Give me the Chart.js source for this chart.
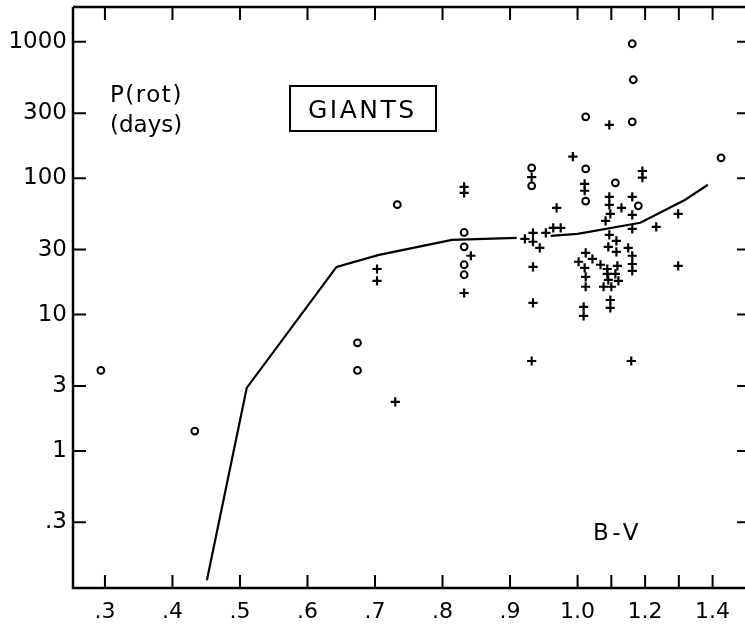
<!DOCTYPE html>
<html>
<head>
<meta charset="utf-8">
<script src="https://cdn.jsdelivr.net/npm/chart.js@4/dist/chart.umd.min.js"></script>
<style>
html,body{margin:0;padding:0;background:#fff;overflow:hidden}
#wrap{width:745px;height:625px;position:relative}
</style>
</head>
<body>
<div id="wrap"><canvas id="c" width="745" height="625"></canvas></div>
<script>
// ---- data (B-V colour index, rotation period in days) ----
const circleBV = [0.294, 0.433, 0.674, 0.674, 0.733, 0.832, 0.832, 0.832, 0.832, 0.932, 0.932, 1.024, 1.024, 1.024, 1.112, 1.162, 1.165, 1.162, 1.180, 1.425];
const circleP  = [3.9,   1.4,   6.2,   3.9,   64,    40,    31.4,  23.2,  19.6,  119,   88,    282,   117,   68,    92.5,  968,   527,   259,   62.7,  141];

const plusBV = [0.730, 0.703, 0.703, 0.832, 0.832, 0.842, 0.832, 0.932, 0.934, 0.922, 0.934, 0.944, 0.953, 0.934, 0.934, 0.932,
                0.969, 0.964, 0.975, 0.993, 1.021, 1.021, 1.094, 1.192, 1.192, 1.094, 1.094, 1.130, 1.162, 1.097, 1.083, 1.162,
                1.162, 1.233, 1.298, 1.298, 1.094, 1.115, 1.091, 1.115, 1.150, 1.162, 1.162, 1.162, 1.024, 1.044, 1.003, 1.021,
                1.024, 1.024, 1.068, 1.088, 1.118, 1.088, 1.112, 1.091, 1.121, 1.077, 1.100, 1.097, 1.097, 1.018, 1.018, 1.159];
const plusP  = [2.29, 21.6, 17.7, 86.5, 78.1, 27.0, 14.4, 102, 39.8, 35.9, 34.2, 30.9, 39.8, 22.4, 12.2, 4.57,
                60.6, 43.3, 43.3, 144, 91, 80.9, 246, 113, 101, 73, 63.8, 60.6, 73, 54.8, 48.7, 53.9,
                42.5, 44, 54.8, 22.8, 38.4, 34.7, 31.4, 28.8, 30.9, 27, 23.5, 20.9, 28.4, 25.6, 24.4, 22,
                18.9, 16, 23.2, 21.6, 22.8, 19.9, 19.9, 18, 17.7, 16, 16, 12.8, 11.2, 11.4, 9.8, 4.57];

// relation curve (null = break in the drawn line)
const curveBV = [0.451, 0.510, 0.643, 0.706, 0.814, 0.910, 0.935, 0.960, 1.000, 1.186, 1.319, 1.386];
const curveP  = [0.113, 2.9,   22.4,  27.4,  35.3,  36.5,  null,  37.8,  39.1,  47.1,  69.5,  89.5];

// tick values and labels
const xTickBV     = [0.3, 0.4, 0.5, 0.6, 0.7, 0.8, 0.9, 1.0, 1.1, 1.2, 1.3, 1.4];
const xTickLabels = ['.3', '.4', '.5', '.6', '.7', '.8', '.9', '1.0', '', '1.2', '', '1.4'];
const yTickValues = [0.3, 1, 3, 10, 30, 100, 300, 1000];
const yTickLabels = ['.3', '1', '3', '10', '30', '100', '300', '1000'];

// the B-V axis is compressed by half beyond 1.0
function toAxis(bv) { return bv <= 1 ? bv : 1 + (bv - 1) * 0.5; }
function pts(xs, ys) { return xs.map((v, i) => ({ x: toAxis(v), y: ys[i] })); }

const FONT = 'DejaVu Sans';

const framePlugin = {
  id: 'frame',
  beforeDraw(chart) {
    const ctx = chart.ctx;
    ctx.save();
    ctx.fillStyle = '#fff';
    ctx.fillRect(0, 0, chart.width, chart.height);
    ctx.restore();
  },
  afterDraw(chart) {
    const { ctx, chartArea: a, scales: { x, y } } = chart;
    ctx.save();
    ctx.strokeStyle = '#000';
    ctx.lineCap = 'butt';
    ctx.lineWidth = 2.5;
    ctx.beginPath();
    ctx.moveTo(a.left, a.top); ctx.lineTo(a.left, a.bottom); ctx.lineTo(chart.width, a.bottom);
    ctx.moveTo(a.left, a.top); ctx.lineTo(chart.width, a.top);
    ctx.stroke();
    ctx.lineWidth = 2;
    ctx.beginPath();
    const T = 13;
    x.ticks.forEach(t => {
      const px = x.getPixelForValue(t.value);
      ctx.moveTo(px, a.bottom); ctx.lineTo(px, a.bottom - T);
      ctx.moveTo(px, a.top); ctx.lineTo(px, a.top + T);
    });
    y.ticks.forEach(t => {
      const py = y.getPixelForValue(t.value);
      ctx.moveTo(a.left, py); ctx.lineTo(a.left + T, py);
      ctx.moveTo(chart.width, py); ctx.lineTo(chart.width - 8, py);
    });
    ctx.stroke();

    // annotations
    ctx.fillStyle = '#000';
    ctx.textAlign = 'left';
    ctx.textBaseline = 'alphabetic';
    ctx.font = '23px "' + FONT + '"';
    ctx.letterSpacing = '1.5px';
    ctx.fillText('P(rot)', 110, 102);
    ctx.letterSpacing = '0px';
    ctx.fillText('(days)', 110, 132);
    ctx.letterSpacing = '3.5px';
    ctx.fillText('B-V', 593, 540);
    ctx.lineWidth = 2;
    ctx.strokeRect(290, 86, 146, 45);
    ctx.font = '25px "' + FONT + '"';
    ctx.letterSpacing = '2.5px';
    ctx.fillText('GIANTS', 308, 118);
    ctx.letterSpacing = '0px';
    ctx.restore();
  }
};

new Chart(document.getElementById('c'), {
  type: 'scatter',
  data: {
    datasets: [
      {
        label: 'relation',
        type: 'line',
        data: pts(curveBV, curveP),
        borderColor: '#000',
        borderWidth: 2.2,
        pointRadius: 0,
        fill: false,
        tension: 0,
        spanGaps: false
      },
      {
        label: 'circles',
        data: pts(circleBV, circleP),
        pointStyle: 'circle',
        pointRadius: 3.4,
        borderWidth: 2,
        borderColor: '#000',
        backgroundColor: 'rgba(255,255,255,0)'
      },
      {
        label: 'plus',
        data: pts(plusBV, plusP),
        pointStyle: 'cross',
        pointRadius: 4.6,
        borderWidth: 2.2,
        borderColor: '#000',
        backgroundColor: '#000'
      }
    ]
  },
  options: {
    responsive: false,
    animation: false,
    devicePixelRatio: 1,
    layout: { padding: { top: 7, right: 0, left: 0, bottom: 0 } },
    plugins: { legend: { display: false }, tooltip: { enabled: false } },
    scales: {
      x: {
        type: 'linear',
        min: 0.2527,
        max: 1.2379,
        afterBuildTicks: s => { s.ticks = xTickBV.map(v => ({ value: toAxis(v) })); },
        afterFit: s => { s.height = 37; s.paddingLeft = 0; s.paddingRight = 0; },
        grid: { display: false, drawTicks: false },
        border: { display: false },
        ticks: {
          autoSkip: false,
          maxRotation: 0,
          padding: 11,
          color: '#000',
          font: { family: FONT, size: 22 },
          callback: (v, i) => xTickLabels[i]
        }
      },
      y: {
        type: 'logarithmic',
        min: 0.099,
        max: 1800,
        afterBuildTicks: s => { s.ticks = yTickValues.map(v => ({ value: v })); },
        afterFit: s => { s.width = 73; s.paddingTop = 0; s.paddingBottom = 0; },
        grid: { display: false, drawTicks: false },
        border: { display: false },
        ticks: {
          autoSkip: false,
          padding: 6,
          color: '#000',
          font: { family: FONT, size: 23 },
          callback: (v, i) => yTickLabels[i]
        }
      }
    }
  },
  plugins: [framePlugin]
});
</script>
</body>
</html>
